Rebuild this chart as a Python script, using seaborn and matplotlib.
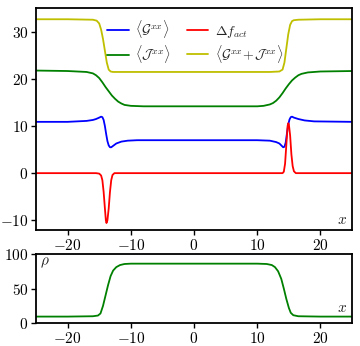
import numpy as np
import pandas as pd
import matplotlib
matplotlib.use("Agg")
import matplotlib.pyplot as plt
import seaborn as sns

# ---- data ----
x_G = [-25, -20, -17, -16, -15.5, -15, -14.7, -14.5, -14.3, -14.1, -13.9, -13.7, -13.5, -13.3, -13.1,
       -12.8, -12.3, -11.5, -10.5, -9, 0, 10, 12, 13, 13.5, 13.8, 14.1, 14.3, 14.5, 14.7, 14.9,
       15.1, 15.3, 15.5, 15.8, 16.5, 17.5, 19, 25]
G = [10.9, 10.9, 11.1, 11.3, 11.5, 11.8, 12.0, 11.9, 11.3, 10.0, 8.3, 6.8, 5.9, 5.5, 5.5,
     5.8, 6.3, 6.7, 6.9, 7.0, 7.0, 7.0, 6.9, 6.6, 6.3, 5.9, 5.5, 5.6, 6.5, 8.5, 10.3,
     11.4, 11.9, 12.0, 11.8, 11.5, 11.2, 11.0, 10.9]

x_J = [-25, -20, -17, -16, -15.5, -15, -14.5, -14, -13.5, -13, -12.5, -12, -11.5, -11, -10, -8, 0,
       10, 11, 12, 12.5, 13, 13.5, 14, 14.5, 15, 15.5, 16, 16.5, 17, 18, 20, 25]
J = [21.8, 21.7, 21.5, 21.2, 20.8, 20.2, 19.3, 18.3, 17.4, 16.5, 15.8, 15.2, 14.8, 14.5, 14.3, 14.2, 14.2,
     14.2, 14.3, 14.6, 14.9, 15.4, 16.1, 17.0, 18.0, 18.9, 19.7, 20.3, 20.8, 21.1, 21.4, 21.6, 21.7]

x_GJ = [-25, -20, -16, -15.4, -15.0, -14.7, -14.4, -14.1, -13.8, -13.5, -13.2, -12.8, -12, -5, 0, 5,
        12, 13.5, 14.0, 14.3, 14.6, 14.9, 15.2, 15.5, 15.8, 16.5, 20, 25]
GJ = [32.7, 32.7, 32.6, 32.4, 31.8, 30.5, 28.5, 26.0, 23.5, 22.0, 21.6, 21.5, 21.5, 21.5, 21.5, 21.5,
      21.5, 21.6, 22.0, 23.5, 26.5, 29.5, 31.5, 32.3, 32.5, 32.6, 32.7, 32.7]

x_df = [-25, -15.5, -15, -14.7, -14.5, -14.3, -14.1, -13.95, -13.85, -13.7, -13.5, -13.3, -13.1, -12.9,
        -12.6, 14, 14.2, 14.4, 14.6, 14.8, 14.9, 15.0, 15.2, 15.4, 15.6, 15.8, 16.1, 25]
dfact = [0, 0, -0.1, -0.5, -1.5, -4, -7.5, -10.0, -10.6, -10.0, -7.5, -4, -1.5, -0.4,
         0, 0, 0.3, 2, 6, 10, 10.6, 10.4, 8, 4, 1.5, 0.4, 0, 0]

x_rho = [-25, -20, -16, -15.2, -14.8, -14.4, -14, -13.6, -13.2, -12.8, -12.3, -11.7, -11, -10, 0,
         10, 11.5, 12.3, 12.8, 13.3, 13.8, 14.2, 14.6, 15, 15.3, 15.7, 16.5, 20, 25]
rho = [9.5, 9.5, 10, 11, 14, 25, 40, 55, 68, 76, 81, 84, 85.5, 86, 86,
       86, 85.5, 84, 81, 75, 64, 50, 35, 22, 15, 11.5, 10, 9.5, 9.5]

labels = [r"$\langle \mathcal{G}^{xx} \rangle$", r"$\langle \mathcal{J}^{xx} \rangle$",
          r"$\Delta f_{act}$", r"$\langle \mathcal{G}^{xx}\!+\!\mathcal{J}^{xx} \rangle$"]
xticks = [-20, -10, 0, 10, 20]
yticks_top = [-10, 0, 10, 20, 30]
yticks_bot = [0, 50, 100]

# ---- style ----
sns.set_style("ticks")
plt.rcParams["font.family"] = "serif"
plt.rcParams["font.serif"] = ["cmr10", "DejaVu Serif"]
plt.rcParams["mathtext.fontset"] = "cm"
plt.rcParams["axes.formatter.use_mathtext"] = True
plt.rcParams["axes.linewidth"] = 1.3
plt.rcParams["axes.edgecolor"] = "black"
plt.rcParams["xtick.color"] = "black"
plt.rcParams["ytick.color"] = "black"

fig = plt.figure(figsize=(3.6, 3.46), dpi=100)
ax1 = fig.add_axes([0.1, 0.335, 0.878, 0.642])
ax2 = fig.add_axes([0.1, 0.066, 0.878, 0.200])

lw = 1.3
series = [(x_G, G, "#0000ff"), (x_J, J, "#008000"), (x_df, dfact, "#ff0000"), (x_GJ, GJ, "#bfbf00")]
for (xx, yy, c), lab in zip(series, labels):
    sns.lineplot(x=xx, y=yy, color=c, lw=lw, ax=ax1, label=lab)

sns.lineplot(x=x_rho, y=rho, color="#008000", lw=lw, ax=ax2, legend=False)

ax1.set_xlim(-25, 25)
ax1.set_ylim(-12.1, 35.1)
ax1.set_xticks(xticks)
ax1.set_yticks(yticks_top)
ax2.set_xlim(-25, 25)
ax2.set_ylim(0, 100)
ax2.set_xticks(xticks)
ax2.set_yticks(yticks_bot)

for ax in (ax1, ax2):
    ax.tick_params(labelsize=11, width=1.0, length=3.5, pad=2)
    ax.set_xlabel("")
    ax.set_ylabel("")

ax1.legend(loc="upper left", ncol=2, frameon=False, fontsize=10,
           handlelength=1.55, columnspacing=1.1, handletextpad=0.5,
           labelspacing=0.22, borderpad=0, borderaxespad=0,
           bbox_to_anchor=(0.2247, 0.955))

ax1.text(0.985, 0.015, r"$x$", transform=ax1.transAxes, ha="right", va="bottom", fontsize=11)
ax2.text(0.985, 0.12, r"$x$", transform=ax2.transAxes, ha="right", va="bottom", fontsize=11)
ax2.text(0.012, 0.97, r"$\rho$", transform=ax2.transAxes, ha="left", va="top", fontsize=11)

fig.savefig("out.png", dpi=100)
